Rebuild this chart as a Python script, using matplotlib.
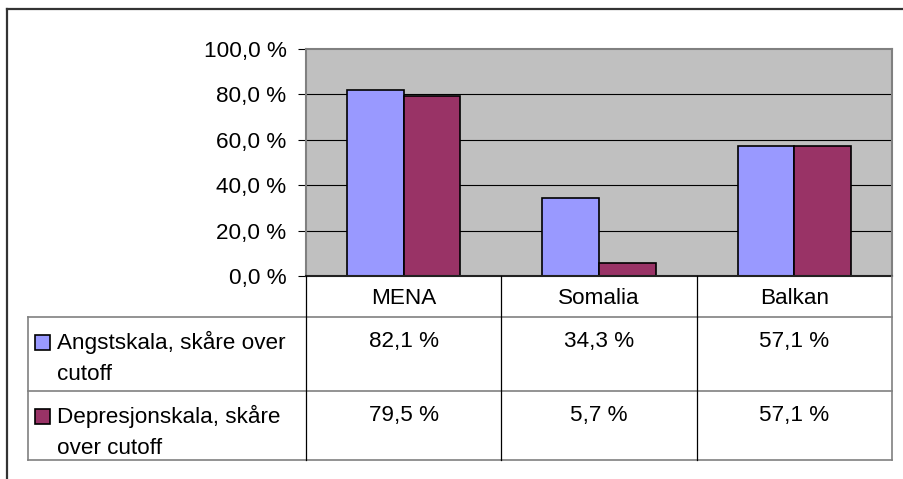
import matplotlib
matplotlib.use("Agg")
import matplotlib.pyplot as plt
from matplotlib.lines import Line2D
from matplotlib.patches import Rectangle
import numpy as np
import textwrap

categories = ["MENA", "Somalia", "Balkan"]
series_names = ["Angstskala, skåre over cutoff", "Depresjonskala, skåre over cutoff"]
angst = [82.1, 34.3, 57.1]
depresjon = [79.5, 5.7, 57.1]
series_values = [angst, depresjon]
series_colors = ["#9999FF", "#993366"]
yticks = [0, 20, 40, 60, 80, 100]

W, H = 904, 479
plt.rcParams['font.family'] = ['Liberation Sans', 'DejaVu Sans']
FS = 16.2

fig = plt.figure(figsize=(W / 100, H / 100), dpi=100)

def fx(px):
    return px / W

def fy(py):
    return 1 - py / H

# plot area geometry (pixels)
PL, PR, PT, PB = 306, 892, 49, 276
ax = fig.add_axes([fx(PL), fy(PB), fx(PR - PL), (PB - PT) / H])
ax.set_facecolor("#C0C0C0")
ax.set_xlim(-0.5, len(categories) - 0.5)
ax.set_ylim(0, 100)
ax.set_axisbelow(True)

for v in yticks[1:-1]:
    ax.axhline(v, color="black", lw=0.8, zorder=0.5)

bw = 0.29
x = np.arange(len(categories))
for i, (vals, col) in enumerate(zip(series_values, series_colors)):
    ax.bar(x + (i - 0.5) * bw, vals, width=bw, color=col, edgecolor="black",
           linewidth=1.2, zorder=2)

ax.set_xticks([])
ax.set_yticks(yticks)
ax.set_yticklabels([f"{v:.1f}".replace(".", ",") + " %" for v in yticks], fontsize=FS)
ax.tick_params(axis="y", direction="out", length=6, width=0.8, color="black", pad=8)
for s in ["top", "right", "left"]:
    ax.spines[s].set_color("#808080")
    ax.spines[s].set_linewidth(1.5)
ax.spines["bottom"].set_color("#222222")
ax.spines["bottom"].set_linewidth(1.5)

# outer chart border
fig.add_artist(Line2D([fx(7), fx(W + 5)], [fy(9), fy(9)], color="#333333", lw=1.6))
fig.add_artist(Line2D([fx(7), fx(7)], [fy(9), fy(H + 5)], color="#333333", lw=1.6))

# data table
TL = 28
rows_y = [276, 317, 391, 460]
col_x = [PL + (PR - PL) * k / len(categories) for k in range(len(categories) + 1)]
gray = "#808080"
for yy in rows_y[1:]:
    fig.add_artist(Line2D([fx(TL), fx(PR)], [fy(yy), fy(yy)], color=gray, lw=1.2))
fig.add_artist(Line2D([fx(TL), fx(TL)], [fy(rows_y[1]), fy(rows_y[-1])], color=gray, lw=1.2))
fig.add_artist(Line2D([fx(PR), fx(PR)], [fy(rows_y[0]), fy(rows_y[-1])], color=gray, lw=1.2))
for cx in col_x[:-1]:
    fig.add_artist(Line2D([fx(cx), fx(cx)], [fy(rows_y[0]), fy(rows_y[-1])], color="black", lw=0.9))

# category row
for k, cat in enumerate(categories):
    cx = (col_x[k] + col_x[k + 1]) / 2
    fig.text(fx(cx), fy(298), cat, ha="center", va="center", fontsize=FS)

# series rows
line_gap = 32
for i, (name, vals, col) in enumerate(zip(series_names, series_values, series_colors)):
    top = rows_y[i + 1]
    y1 = top + 25
    fig.add_artist(Rectangle((fx(35), fy(y1 + 8)), fx(15), 15 / H, facecolor=col,
                             edgecolor="black", lw=1.2))
    lines = textwrap.wrap(name, 22)
    for j, ln in enumerate(lines):
        fig.text(fx(57), fy(y1 + j * line_gap), ln, ha="left", va="center", fontsize=FS)
    for k, v in enumerate(vals):
        cx = (col_x[k] + col_x[k + 1]) / 2
        fig.text(fx(cx), fy(y1), f"{v:.1f}".replace(".", ",") + " %", ha="center",
                 va="center", fontsize=FS)

fig.savefig("out.png", dpi=100)
